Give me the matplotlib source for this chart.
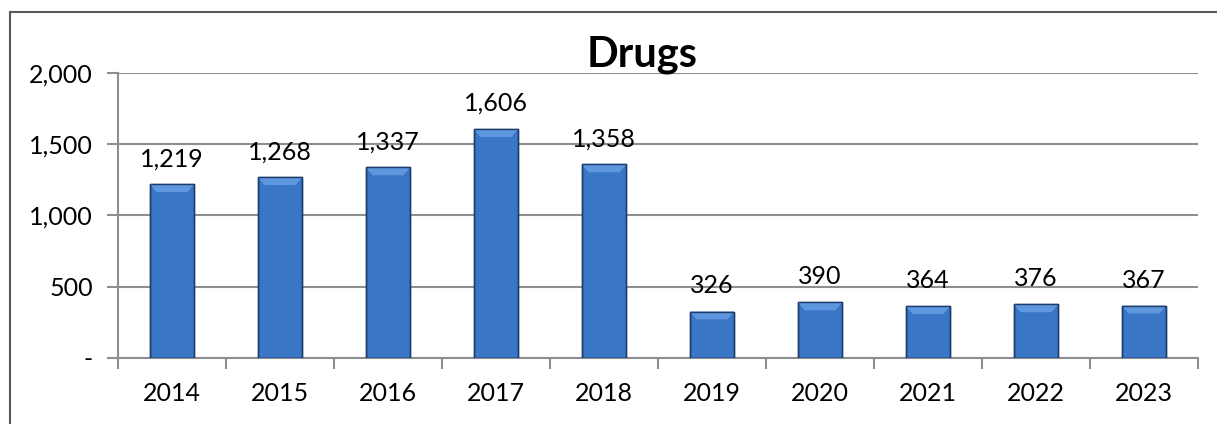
import matplotlib
matplotlib.use('Agg')
import matplotlib.pyplot as plt
from matplotlib.patches import Rectangle, Polygon
from matplotlib.ticker import FuncFormatter
import numpy as np

years = ['2014', '2015', '2016', '2017', '2018', '2019', '2020', '2021', '2022', '2023']
drugs = [1219, 1268, 1337, 1606, 1358, 326, 390, 364, 376, 367]
yticks = [0, 500, 1000, 1500, 2000]

plt.rcParams['font.family'] = ['Lato', 'DejaVu Sans']
grid_col = '#8e8e8e'

fig = plt.figure(figsize=(12.17, 4.24), dpi=100)
ax = fig.add_axes([0.097, 0.1557, 0.8874, 0.6722])

x = np.arange(len(years))
bars = ax.bar(x, drugs, width=0.41, color='#3a76c6', edgecolor='#1d3c6b',
              linewidth=1.0, zorder=3)

# bevelled top like the Excel style
for b in bars:
    bx, bw, bh = b.get_x(), b.get_width(), b.get_height()
    top = [(bx, bh), (bx + bw, bh), (bx + bw * 0.85, bh - 55), (bx + bw * 0.15, bh - 55)]
    ax.add_patch(Polygon(top, closed=True, facecolor='#5e97de', edgecolor='none', zorder=4))
    ax.add_patch(Rectangle((bx, 0), bw, bh, fill=False, edgecolor='#1d3c6b',
                           linewidth=1.0, zorder=5))

for xi, v in zip(x, drugs):
    ax.annotate(f'{v:,}', (xi, v), xytext=(0, 13), textcoords='offset points',
                ha='center', va='baseline', fontsize=18, color='black')

ax.set_ylim(0, 2000)
ax.set_xlim(-0.5, len(years) - 0.5)
ax.set_yticks(yticks)
ax.yaxis.set_major_formatter(FuncFormatter(lambda v, p: '-' if v == 0 else f'{int(v):,}'))
ax.set_xticks(x)
ax.set_xticklabels(years)
ax.set_xticks(np.arange(-0.5, len(years)), minor=True)
ax.tick_params(axis='x', which='major', length=0, pad=17, labelsize=18)
ax.tick_params(axis='x', which='minor', length=8, width=1.5, color=grid_col)
ax.tick_params(axis='y', length=8, width=1.5, color=grid_col, pad=10, labelsize=18)

ax.grid(axis='y', color=grid_col, linewidth=1.5, zorder=0)
for s in ['top', 'right']:
    ax.spines[s].set_visible(False)
for s in ['left', 'bottom']:
    ax.spines[s].set_color(grid_col)
    ax.spines[s].set_linewidth(1.5)

fig.text(0.5275, 0.842, 'Drugs', ha='center', va='baseline',
         fontsize=30, fontweight='bold')

# chart frame (only top/left edges visible in the crop)
fig.add_artist(Rectangle((0.0082, -0.1), 1.2, 0.1 + 0.9717, transform=fig.transFigure,
                         fill=False, edgecolor='#5a5a5a', linewidth=1.5))

fig.savefig('out.png', dpi=100)
